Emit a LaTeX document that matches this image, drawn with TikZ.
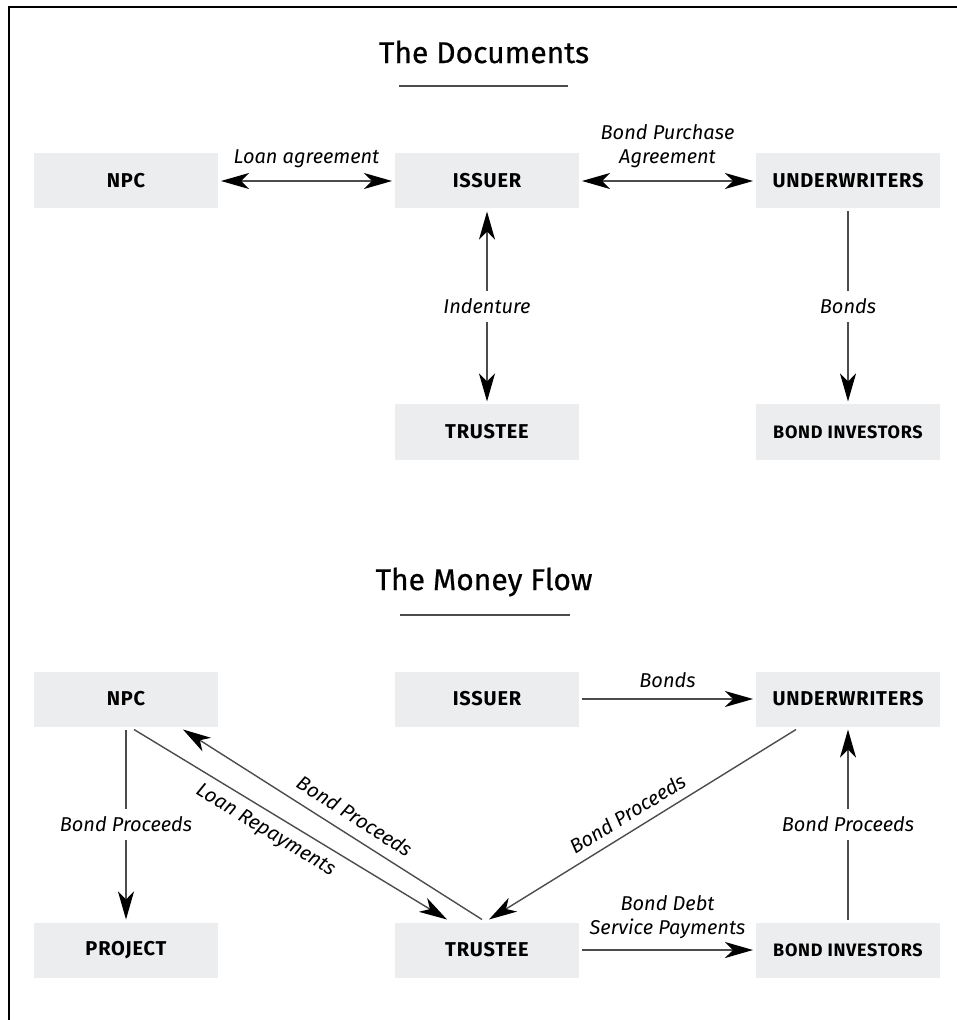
\documentclass[tikz,border=0pt]{standalone}
\usepackage{fontspec}
\setmainfont{Fira Sans}
\newfontfamily\boxfont[LetterSpace=4]{Fira Sans}
\newfontfamily\headfont[FakeBold=0.6]{Fira Sans}
\usetikzlibrary{arrows.meta,positioning}

\definecolor{boxgray}{HTML}{ECEDEF}

\tikzset{
  party/.style={fill=boxgray, minimum width=92pt, minimum height=27.5pt,
    inner sep=0pt, outer sep=1.5pt, font=\boxfont\bfseries\fontsize{10}{12}\selectfont},
  smallparty/.style={party, font=\boxfont\bfseries\fontsize{9}{11}\selectfont},
  tip/.tip={Stealth[length=14pt,width=8pt,inset=4pt,color=black]},
  flow/.style={draw=black!70, line width=0.7pt, -tip},
  both/.style={flow, tip-tip},
  tag/.style={font=\itshape\fontsize{10}{12}\selectfont, text=black},
  cut/.style={tag, fill=white, inner sep=4pt},
  heading/.style={font=\headfont\fontsize{15}{18}\selectfont}
}

\begin{document}
\begin{tikzpicture}[x=0.5pt, y=-0.5pt, node distance=125.5pt and 180.5pt]
\useasboundingbox (0,0) rectangle (956,1020);
\draw[line width=1pt] (9,1022) |- (958,7);

% the documents
\node[heading] (doctitle) at (484,52) {The Documents};
\draw[black!70, line width=0.8pt] (399,86) -- (568,86);

\node[party] (npc) at (126,181) {NPC};
\node[party] (issuer) [on grid, right=of npc] {ISSUER};
\node[party] (uw) [on grid, right=of issuer] {UNDERWRITERS};
\node[party] (trustee) [on grid, below=of issuer] {TRUSTEE};
\node[smallparty] (binv) [on grid, below=of uw] {BOND INVESTORS};

\draw[both] (npc) -- node[tag, above=3pt] {Loan agreement} (issuer);
\draw[both] (issuer) -- node[tag, above=3pt, align=center] {Bond Purchase\\Agreement} (uw);
\draw[both] (issuer) -- node[cut] {Indenture} (trustee);
\draw[flow] (uw) -- node[cut] {Bonds} (binv);

% the money flow
\node[heading] (flowtitle) at (484,582) {The Money Flow};
\draw[black!70, line width=0.8pt] (400,615) -- (570,615);

\node[party] (npc2) at (126,699) {NPC};
\node[party] (issuer2) [on grid, right=of npc2] {ISSUER};
\node[party] (uw2) [on grid, right=of issuer2] {UNDERWRITERS};
\node[party] (project) [on grid, below=of npc2] {PROJECT};
\node[party] (trustee2) [on grid, below=of issuer2] {TRUSTEE};
\node[smallparty] (binv2) [on grid, below=of uw2] {BOND INVESTORS};

\draw[flow] (issuer2) -- node[tag, above=2pt] {Bonds} (uw2);
\draw[flow] (npc2) -- node[cut] {Bond Proceeds} (project);
\draw[flow] (binv2) -- node[cut] {Bond Proceeds} (uw2);
\draw[flow] (trustee2) -- node[tag, above=2pt, align=center] {Bond Debt\\Service Payments} (binv2);
\draw[flow] ([xshift=-26pt]uw2.south) -- node[tag, sloped, above=1pt, pos=0.52] {Bond Proceeds} ([xshift=1pt]trustee2.north);
\draw[flow] ([xshift=4pt]npc2.south) -- node[tag, sloped, below=1pt, pos=0.45] {Loan Repayments} ([xshift=-20pt]trustee2.north);
\draw[flow] ([xshift=-2.5pt]trustee2.north) -- node[tag, sloped, above=2pt, pos=0.46] {Bond Proceeds} ([xshift=28.5pt]npc2.south);
\end{tikzpicture}
\end{document}
